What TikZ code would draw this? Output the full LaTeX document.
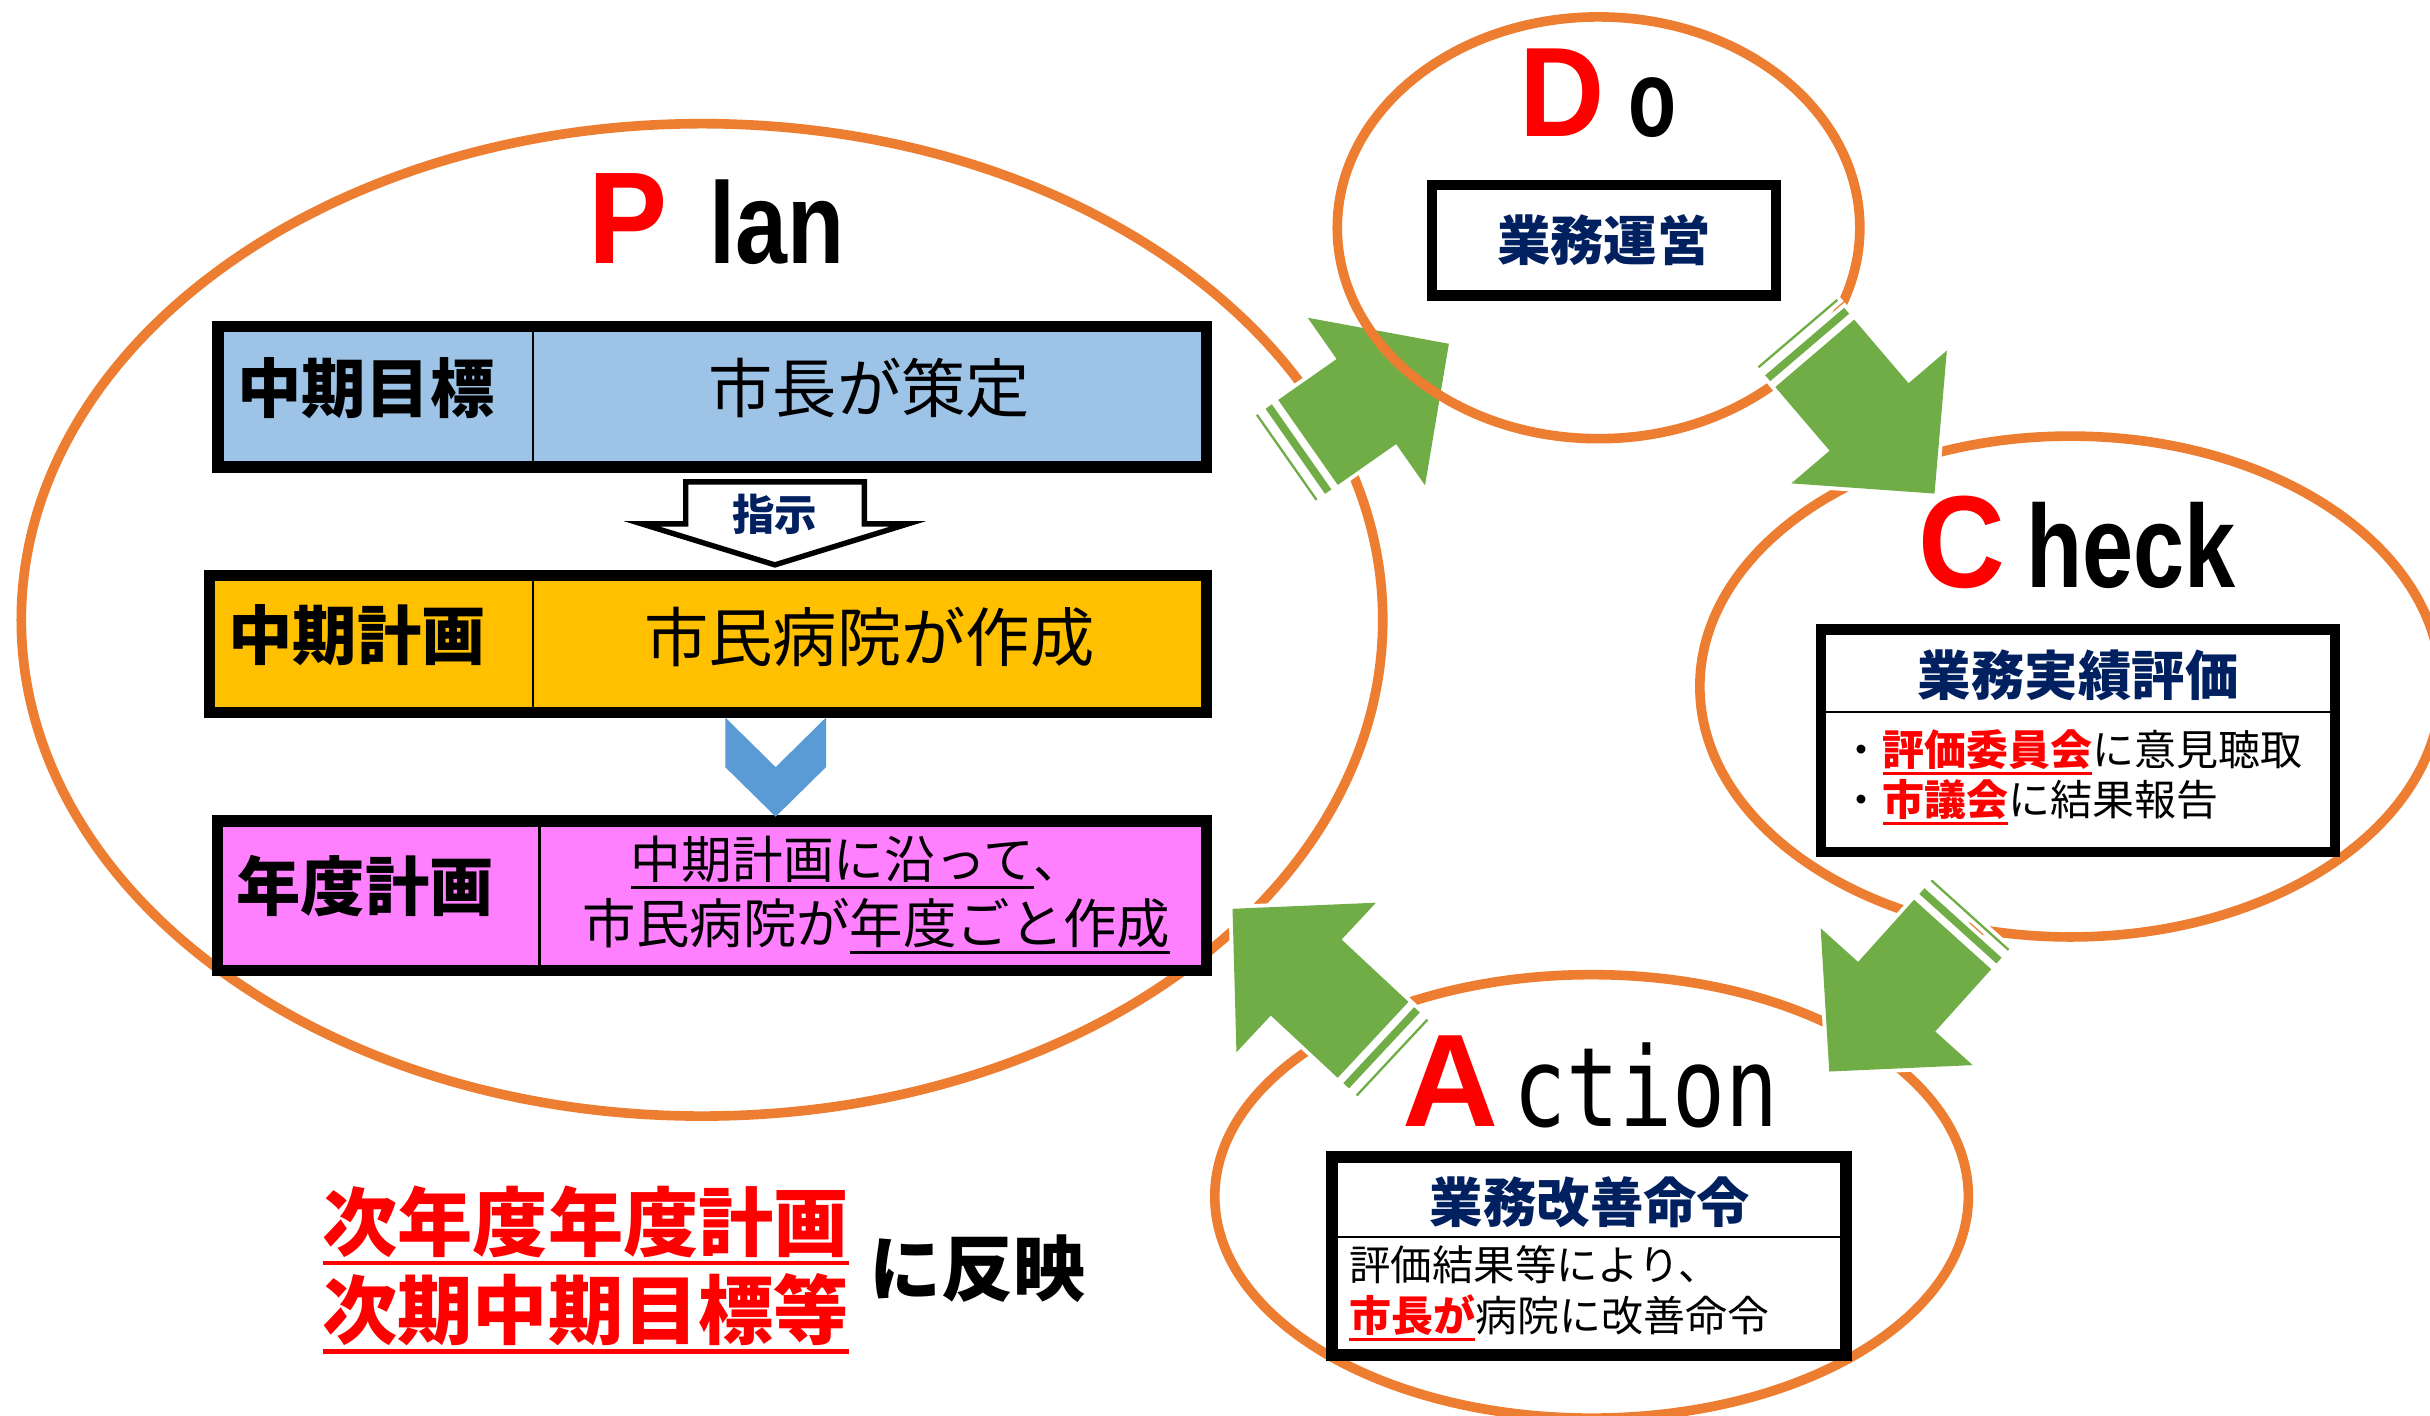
\documentclass[tikz,border=0pt]{standalone}
\usepackage{fontspec}
\setmainfont{Noto Sans CJK JP}
\newfontfamily\titlefont{Liberation Sans}
\newfontfamily\titlemono{DejaVu Sans Mono}
\usepackage{tikz}
\usetikzlibrary{shapes,arrows,positioning,calc}

\definecolor{ringorange}{HTML}{ED7D31}
\definecolor{arrowgreen}{HTML}{70AD47}
\definecolor{chevblue}{HTML}{5B9BD5}
\definecolor{goalblue}{HTML}{9DC3E6}
\definecolor{plangold}{HTML}{FFC000}
\definecolor{yearpink}{HTML}{FF80FF}
\definecolor{navy}{HTML}{002060}

% underlined text with its own rule
\newcommand{\undl}[2][0.55pt]{\vtop{\hbox{#2}\kern0.5pt\hrule height #1}}

% striped block arrow: tail x, tail y, angle, shaft length
\newcommand{\striparrow}[4]{%
  \begin{scope}[shift={(#1,#2)}, rotate=#3]
    \fill[arrowgreen, preaction={draw=white, line width=0.05cm}]
      (0,-33.5) -- (#4,-33.5) -- (#4,-66) -- (#4+65,0) -- (#4,66) -- (#4,33.5) -- (0,33.5) -- cycle;
    \fill[arrowgreen, preaction={draw=white, line width=0.05cm}] (-10,-33.5) rectangle (-5,33.5);
    \fill[arrowgreen, preaction={draw=white, line width=0.05cm}] (-17.5,-33.5) rectangle (-16,33.5);
  \end{scope}}

\begin{document}
\begin{tikzpicture}[x=0.01cm, y=-0.01cm]
    % Define styles
    \tikzstyle{phase} = [ellipse, draw=ringorange, line width=0.062cm, inner sep=0]
    \tikzstyle{cell} = [rectangle, draw=black, line width=0.4pt, inner sep=0, outer sep=0, anchor=north west]
    \tikzstyle{frame} = [draw=black, line width=0.075cm]
    \tikzstyle{workbox} = [rectangle, draw=black, fill=white, line width=0.066cm, inner sep=0]
    \tikzstyle{title} = [font=\titlefont\bfseries, anchor=base west, inner sep=0]
    \tikzstyle{rowname} = [font=\fontsize{11.8}{14}\selectfont\bfseries, inner sep=0]
    \tikzstyle{rowtext} = [font=\fontsize{11.8}{14}\selectfont, inner sep=0]
    \tikzstyle{boxhead} = [font=\fontsize{9.8}{12}\selectfont\bfseries, text=navy, inner sep=0]
    \tikzstyle{note} = [font=\fontsize{7.7}{9}\selectfont, anchor=base west, inner sep=0]
    \tikzstyle{reflect} = [font=\fontsize{13.8}{16}\selectfont\bfseries, inner sep=0]

    \useasboundingbox (0,0) rectangle (1568,913.7);
    \fill[white] (0,0) rectangle (1568,913.7);

    % PDCA rings and arrows (Do ring lies over the Plan arrow)
    \node (plan) [phase, minimum width=8.78cm, minimum height=6.40cm] at (453,400) {};
    \node (check) [phase, minimum width=4.78cm, minimum height=3.23cm] at (1336,443) {};
    \node (act) [phase, minimum width=4.86cm, minimum height=2.86cm] at (1027,772) {};
    \striparrow{844}{285.5}{35}{46}
    \node (do) [phase, minimum width=3.37cm, minimum height=2.72cm] at (1031.5,147) {};
    \striparrow{1171}{228}{-49.5}{54}
    \striparrow{1260}{603}{-132}{54}
    \striparrow{886}{671}{137}{59}

    % Titles
    \node (plantitle) [title] at (379,170) {\textcolor{red}{\resizebox{0.51cm}{0.58cm}{P}}\hspace{0.27cm}\resizebox{0.87cm}{0.54cm}{lan}};
    \node (dotitle) [title] at (980,88) {\textcolor{red}{\resizebox{0.55cm}{0.565cm}{D}}\hspace{0.15cm}\resizebox{0.31cm}{0.38cm}{o}};
    \node (checktitle) [title] at (1237,379) {\textcolor{red}{\resizebox{0.56cm}{0.59cm}{C}}\hspace{0.14cm}\resizebox{1.35cm}{0.55cm}{heck}};
    \node (acttitle) [title] at (904,727) {\textcolor{red}{\resizebox{0.62cm}{0.585cm}{A}}\hspace{0.10cm}\resizebox{1.71cm}{0.54cm}{\titlemono\mdseries ction}};

    % Plan rows
    \node (goalL) [cell, fill=goalblue, minimum width=2.0325cm, minimum height=0.905cm] at (140.75,210.75) {};
    \node (goalR) [cell, fill=goalblue, minimum width=4.3425cm, minimum height=0.905cm, right=0pt of goalL] {};
    \draw[frame] (goalL.north west) rectangle (goalR.south east);
    \node (goalname) [rowname] at (236,250.5) {中期目標};
    \node (goaltext) [rowtext] at (561,250.5) {市長が策定};

    \node (midL) [cell, fill=plangold, minimum width=2.0885cm, minimum height=0.884cm] at (135.15,371.35) {};
    \node (midR) [cell, fill=plangold, minimum width=4.3425cm, minimum height=0.884cm, right=0pt of midL] {};
    \draw[frame] (midL.north west) rectangle (midR.south east);
    \node (midname) [rowname] at (230.5,410) {中期計画};
    \node (midtext) [rowtext] at (561,411) {市民病院が作成};

    \node (yearL) [cell, fill=yearpink, minimum width=2.0775cm, minimum height=0.965cm] at (140.25,529.75) {};
    \node (yearR) [cell, fill=yearpink, minimum width=4.3025cm, minimum height=0.965cm, right=0pt of yearL] {};
    \draw[frame] (yearL.north west) rectangle (yearR.south east);
    \node (yearname) [rowname] at (235.7,571.7) {年度計画};
    \node (yearline1) [font=\fontsize{9.3}{11}\selectfont, anchor=base, inner sep=0] at (553.5,567) {\undl{中期計画に沿って}、};
    \node (yearline2) [font=\fontsize{9.8}{12}\selectfont, anchor=base, inner sep=0] at (565.6,608.6) {市民病院が\undl{年度ごと作成}};

    % Arrows between rows
    \draw[fill=white, draw=black, line width=0.035cm] (442.5,311) -- (557.7,311) -- (557.7,338) -- (586,338) -- (500,364.5) -- (414,338) -- (442.5,338) -- cycle;
    \node (instr) [font=\fontsize{7.8}{9}\selectfont\bfseries, text=navy, inner sep=0] at (500,332) {指示};
    \fill[chevblue] (468,463) -- (500.5,495) -- (533,463) -- (533,495) -- (500.5,527) -- (468,495) -- cycle;

    % Do, Check, Action boxes
    \node (doBox) [workbox, boxhead, minimum width=2.214cm, minimum height=0.714cm] at (1035,155) {業務運営};

    \node (checkBox) [workbox, minimum width=3.314cm, minimum height=1.434cm] at (1341,478) {};
    \draw[line width=0.4pt] ($(checkBox.north west)!0.378!(checkBox.south west)$) -- ($(checkBox.north east)!0.378!(checkBox.south east)$);
    \node (checkhead) [boxhead] at (1341,436) {業務実績評価};
    \node (checkline1) [note] at (1187,494) {・\textcolor{red}{\undl{\bfseries 評価委員会}}に意見聴取};
    \node (checkline2) [note] at (1187,526) {・\textcolor{red}{\undl{\bfseries 市議会}}に結果報告};

    \node (actBox) [workbox, line width=0.077cm, minimum width=3.313cm, minimum height=1.273cm] at (1025.5,810.5) {};
    \draw[line width=0.4pt] ($(actBox.north west)!0.41!(actBox.south west)$) -- ($(actBox.north east)!0.41!(actBox.south east)$);
    \node (acthead) [boxhead] at (1026,776) {業務改善命令};
    \node (actline1) [note, font=\fontsize{7.6}{9}\selectfont] at (870,826) {評価結果等により、};
    \node (actline2) [note] at (870,859) {\textcolor{red}{\undl{\bfseries 市長が}}病院に改善命令};

    % Feedback note
    \node (nextyear) [reflect, text=red, anchor=base] at (378,807) {\undl[0.85pt]{次年度年度計画}};
    \node (nextterm) [reflect, text=red, anchor=base] at (378,864) {\undl[0.85pt]{次期中期目標等}};
    \node (reflectto) [reflect, font=\fontsize{13.2}{16}\selectfont\bfseries] at (631,818.6) {に反映};
\end{tikzpicture}
\end{document}
